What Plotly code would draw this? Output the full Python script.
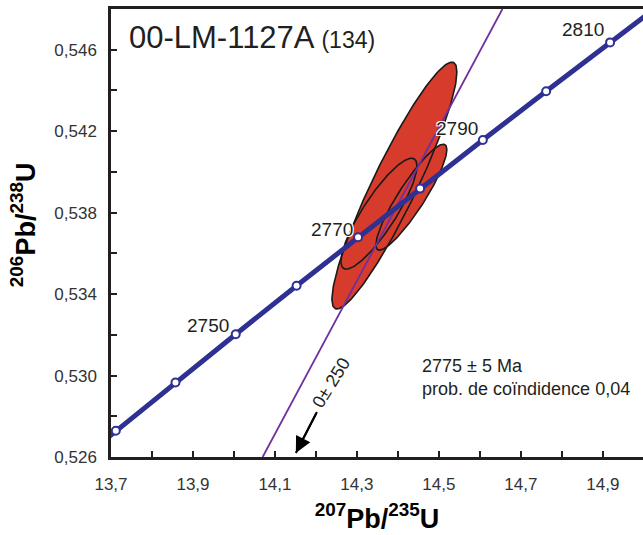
import numpy as np
import plotly.graph_objects as go

# ---------------- data ----------------
# Concordia curve (ages in Ma) and its ratio coordinates
conc_age = [2720, 2730, 2740, 2750, 2760, 2770, 2780, 2790, 2800, 2810, 2820]
conc_x = [13.5676, 13.7117, 13.8573, 14.0043, 14.1528, 14.3028, 14.4542, 14.6072, 14.7617, 14.9177, 15.0752]
conc_y = [0.52492, 0.52729, 0.52966, 0.53203, 0.53441, 0.53679, 0.53918, 0.54157, 0.54396, 0.54636, 0.54876]

# age labels on the concordia
lab_text = ["2750", "2770", "2790", "2810"]
lab_x = [13.937, 14.239, 14.544, 14.851]
lab_y = [0.53248, 0.53719, 0.54215, 0.54701]
lab_halo = [False, True, True, False]

# discordia line (two points)
disc_x = [14.07, 14.655]
disc_y = [0.5260, 0.5480]

# lower-intercept arrow (tail, tip)
arrow_x = [14.2024, 14.151]
arrow_y = [0.52821, 0.5262]

# error ellipses: centre, half-extents, correlation
ell_cx = [14.3915, 14.3537, 14.4329]
ell_sx = [0.1524, 0.0927, 0.0866]
ell_cy = [0.53933, 0.53795, 0.53876]
ell_sy = [0.00606, 0.002724, 0.00260]
ell_rho = [0.92, 0.86, 0.90]

# axes ticks
x_tickvals = [13.7, 13.8, 13.9, 14.0, 14.1, 14.2, 14.3, 14.4, 14.5, 14.6, 14.7, 14.8, 14.9]
x_ticktext = ["13,7", "", "13,9", "", "14,1", "", "14,3", "", "14,5", "", "14,7", "", "14,9"]
y_tickvals = [0.526, 0.528, 0.530, 0.532, 0.534, 0.536, 0.538, 0.540, 0.542, 0.544, 0.546]
y_ticktext = ["0,526", "", "0,530", "", "0,534", "", "0,538", "", "0,542", "", "0,546"]

# ---------------- figure ----------------
FONT = "Arial, Liberation Sans, sans-serif"
RED = "#D63B2C"
BLUE = "#2E3192"
PURPLE = "#7030A0"

fig = go.Figure()

t = np.linspace(0, 2 * np.pi, 200)
ell_pts = []
for cx, sx, cy, sy, r in zip(ell_cx, ell_sx, ell_cy, ell_sy, ell_rho):
    ex = cx + sx * np.cos(t)
    ey = cy + sy * (r * np.cos(t) + np.sqrt(1 - r * r) * np.sin(t))
    ell_pts.append((ex, ey))

# fills first
for ex, ey in ell_pts:
    fig.add_trace(go.Scatter(x=ex, y=ey, mode="lines", fill="toself", fillcolor=RED,
                             line=dict(width=0, color=RED), hoverinfo="skip", showlegend=False))
# outlines
for ex, ey in ell_pts:
    fig.add_trace(go.Scatter(x=ex, y=ey, mode="lines",
                             line=dict(width=1.6, color="#1a1a1a"), hoverinfo="skip", showlegend=False))

# discordia
fig.add_trace(go.Scatter(x=disc_x, y=disc_y, mode="lines", line=dict(color=PURPLE, width=1.8),
                         showlegend=False, hoverinfo="skip"))

# concordia line
fig.add_trace(go.Scatter(x=conc_x, y=conc_y, mode="lines", line=dict(color=BLUE, width=5),
                         showlegend=False, hoverinfo="skip"))
# concordia markers
fig.add_trace(go.Scatter(x=conc_x[1:-1], y=conc_y[1:-1], mode="markers",
                         marker=dict(size=8, color="white", line=dict(color=BLUE, width=2)),
                         showlegend=False, hoverinfo="skip"))

# arrow shaft
fig.add_trace(go.Scatter(x=arrow_x, y=arrow_y, mode="lines", line=dict(color="black", width=2),
                         showlegend=False, hoverinfo="skip"))

halo = "1px 1px 0px white, -1px -1px 0px white, 1px -1px 0px white, -1px 1px 0px white"
for tx, x, y, h in zip(lab_text, lab_x, lab_y, lab_halo):
    fnt = dict(family=FONT, size=19, color="#231f20")
    if h:
        fnt["shadow"] = halo
    fig.add_annotation(x=x, y=y, text=tx, showarrow=False, font=fnt, xanchor="center", yanchor="middle")

# arrow head
fig.add_annotation(x=arrow_x[1], y=arrow_y[1], axref="x", ayref="y", ax=arrow_x[0], ay=arrow_y[0],
                   text="", showarrow=True, arrowhead=2, arrowsize=1.6, arrowwidth=2, arrowcolor="black")
fig.add_annotation(x=14.237, y=0.52963, text="0± 250", textangle=-58, showarrow=False,
                   font=dict(family=FONT, size=18, color="#231f20"))

# sample title
fig.add_annotation(xref="paper", yref="paper", x=0.030, y=0.9375, xanchor="left", yanchor="middle",
                   text="00-LM-1127A <span style='font-size:23px'>(134)</span>", showarrow=False,
                   font=dict(family=FONT, size=31, color="#231f20"))

# age result text
fig.add_annotation(xref="paper", yref="paper", x=0.581, y=0.1775, xanchor="left", yanchor="middle",
                   align="left", text="2775 ± 5 Ma<br>prob. de coïndidence 0,04", showarrow=False,
                   font=dict(family=FONT, size=18, color="#231f20"))

# y axis title (placed as annotation to match position)
fig.add_annotation(xref="paper", yref="paper", x=-0.165, y=0.518, xanchor="center", yanchor="middle",
                   textangle=-90, showarrow=False,
                   text="<b><sup>206</sup>Pb/<sup>238</sup>U</b>", font=dict(family=FONT, size=27, color="black"))

fig.update_layout(
    width=643, height=535,
    margin=dict(l=111, r=0, t=9, b=78, autoexpand=False),
    paper_bgcolor="white", plot_bgcolor="white",
    font=dict(family=FONT, color="#231f20"),
    xaxis=dict(range=[13.7, 14.998], tickvals=x_tickvals, ticktext=x_ticktext,
               ticks="inside", ticklen=6, tickwidth=2, tickcolor="#231f20",
               showline=True, linewidth=2.5, linecolor="#231f20", mirror=True,
               showgrid=False, zeroline=False, tickfont=dict(size=17, color="#333"),
               ticklabelstandoff=10, automargin=False,
               title=dict(text="<b><sup>207</sup>Pb/<sup>235</sup>U</b>", font=dict(size=27, color="black"),
                          standoff=16)),
    yaxis=dict(range=[0.526, 0.548], tickvals=y_tickvals, ticktext=y_ticktext,
               ticks="inside", ticklen=6, tickwidth=2, tickcolor="#231f20",
               showline=True, linewidth=2.5, linecolor="#231f20", mirror=False,
               showgrid=False, zeroline=False, tickfont=dict(size=17, color="#333"),
               ticklabelstandoff=8, automargin=False),
)

fig.write_html("out.html", config={"displayModeBar": False},
               post_script="document.body.style.margin='0px';document.body.style.overflow='hidden';")
